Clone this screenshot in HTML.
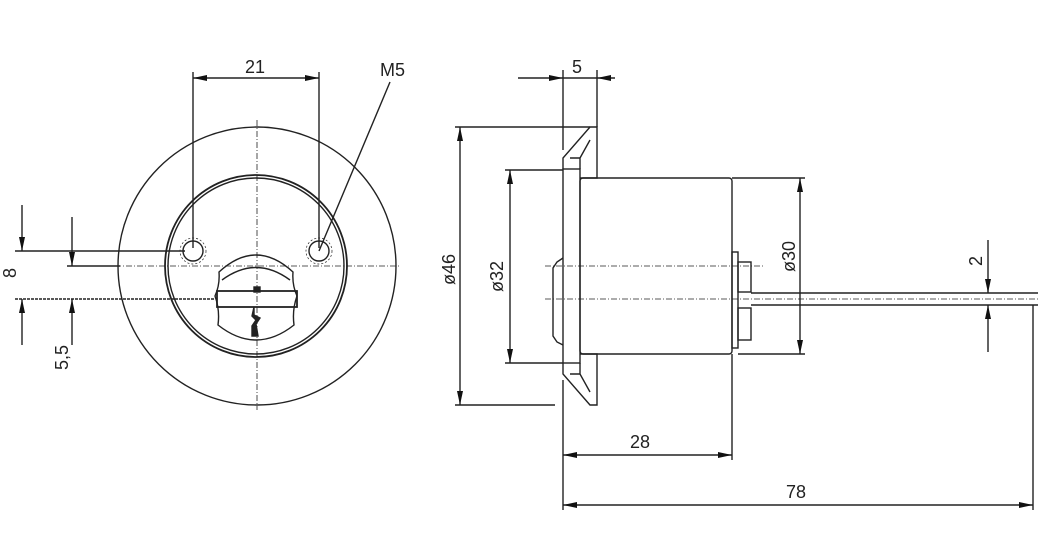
<!DOCTYPE html>
<html><head><meta charset="utf-8"><style>
html,body{margin:0;padding:0;background:#fff}
svg{display:block}
text{font-family:"Liberation Sans",sans-serif;font-size:18px;fill:#222}
</style></head><body>
<svg width="1057" height="543" viewBox="0 0 1057 543" xmlns="http://www.w3.org/2000/svg">
<defs>
<marker id="a" viewBox="0 0 14 6" refX="14" refY="3" markerWidth="14" markerHeight="6" orient="auto-start-reverse" markerUnits="userSpaceOnUse"><path d="M0,0 L14,3 L0,6z" fill="#111"/></marker>
</defs>
<g stroke="#222" fill="none" stroke-width="1.4">
<circle cx="257" cy="266" r="139"/>
<circle cx="256" cy="266" r="91" stroke-width="1.8"/>
<circle cx="256" cy="266" r="88"/>
<circle cx="193" cy="251" r="10"/>
<circle cx="319" cy="251" r="10"/>
<circle cx="193" cy="251" r="13" stroke-dasharray="2 2" stroke-width="0.7"/>
<circle cx="319" cy="251" r="13" stroke-dasharray="2 2" stroke-width="0.7"/>
<path d="M219,272 Q256,238 293,272 Q292,285 297,296 Q292,310 294,325 Q256,355 218,325 Q220,310 215,296 Q220,285 219,272z"/>
<path d="M222,280 Q256,255 290,280"/>
<rect x="217" y="291" width="80" height="16" stroke-width="1.8"/>
<path d="M254,307 l0,8 l6,3 l-4,6 l2,12 l-6,0 l0,-10 l4,-6 l-4,-4z" fill="#222"/>
<rect x="254" y="287" width="6" height="5" fill="#222"/>
<g stroke-dasharray="6 2 1 2" stroke-width="0.8">
<line x1="257" y1="120" x2="257" y2="410"/>
<line x1="115" y1="266" x2="400" y2="266"/>
</g>
<line x1="193" y1="72" x2="193" y2="248"/>
<line x1="319" y1="72" x2="319" y2="248"/>
<line x1="193" y1="78" x2="319" y2="78" marker-start="url(#a)" marker-end="url(#a)"/>
<line x1="390" y1="82" x2="319" y2="251"/>
<line x1="15" y1="251" x2="185" y2="251"/>
<line x1="67" y1="266" x2="120" y2="266"/>
<line x1="15" y1="299" x2="215" y2="299" stroke-dasharray="3 1"/>
<line x1="22" y1="205" x2="22" y2="251" marker-end="url(#a)"/>
<line x1="22" y1="345" x2="22" y2="299" marker-end="url(#a)"/>
<line x1="72" y1="217" x2="72" y2="266" marker-end="url(#a)"/>
<line x1="72" y1="345" x2="72" y2="299" marker-end="url(#a)"/>
<rect x="563" y="169" width="17" height="194"/>
<rect x="580" y="178" width="152" height="176" rx="3"/>
<path d="M563,169 L563,158 L590,127 L597,127 L597,178 L580,178 M570,158 L580,158 L580,169 M590,140 L580,158"/>
<path d="M563,363 L563,374 L590,405 L597,405 L597,354 L580,354 M570,374 L580,374 L580,363 M590,392 L580,374"/>
<path d="M563,258 L557,262 L553,268 L553,336 L557,342 L563,345"/>
<rect x="732" y="252" width="6" height="96"/>
<rect x="738" y="262" width="13" height="30"/>
<rect x="738" y="308" width="13" height="32"/>
<line x1="751" y1="293" x2="1038" y2="293"/>
<line x1="751" y1="305" x2="1038" y2="305"/>
<g stroke-dasharray="6 2 1 2" stroke-width="0.8">
<line x1="545" y1="266" x2="765" y2="266"/>
<line x1="545" y1="299" x2="1040" y2="299"/>
</g>
<line x1="563" y1="70" x2="563" y2="150"/>
<line x1="597" y1="70" x2="597" y2="127"/>
<line x1="518" y1="78" x2="563" y2="78" marker-end="url(#a)"/>
<line x1="615" y1="78" x2="597" y2="78" marker-end="url(#a)"/>
<line x1="563" y1="78" x2="597" y2="78"/>
<line x1="455" y1="127" x2="590" y2="127"/>
<line x1="455" y1="405" x2="555" y2="405"/>
<line x1="460" y1="127" x2="460" y2="405" marker-start="url(#a)" marker-end="url(#a)"/>
<line x1="505" y1="170" x2="563" y2="170"/>
<line x1="505" y1="363" x2="563" y2="363"/>
<line x1="510" y1="170" x2="510" y2="363" marker-start="url(#a)" marker-end="url(#a)"/>
<line x1="732" y1="178" x2="805" y2="178"/>
<line x1="738" y1="354" x2="805" y2="354"/>
<line x1="800" y1="178" x2="800" y2="354" marker-start="url(#a)" marker-end="url(#a)"/>
<line x1="988" y1="240" x2="988" y2="293" marker-end="url(#a)"/>
<line x1="988" y1="352" x2="988" y2="305" marker-end="url(#a)"/>
<line x1="563" y1="380" x2="563" y2="510"/>
<line x1="732" y1="354" x2="732" y2="460"/>
<line x1="1033" y1="305" x2="1033" y2="510"/>
<line x1="563" y1="455" x2="732" y2="455" marker-start="url(#a)" marker-end="url(#a)"/>
<line x1="563" y1="505" x2="1033" y2="505" marker-start="url(#a)" marker-end="url(#a)"/>
</g>
<text x="245" y="73">21</text>
<text x="380" y="76">M5</text>
<text x="572" y="73">5</text>
<text x="630" y="448">28</text>
<text x="786" y="498">78</text>
<text transform="translate(16,278) rotate(-90)">8</text>
<text transform="translate(68,370) rotate(-90)">5,5</text>
<text transform="translate(455,285) rotate(-90)">ø46</text>
<text transform="translate(503,292) rotate(-90)">ø32</text>
<text transform="translate(795,272) rotate(-90)">ø30</text>
<text transform="translate(982,266) rotate(-90)">2</text>
</svg>
</body></html>
